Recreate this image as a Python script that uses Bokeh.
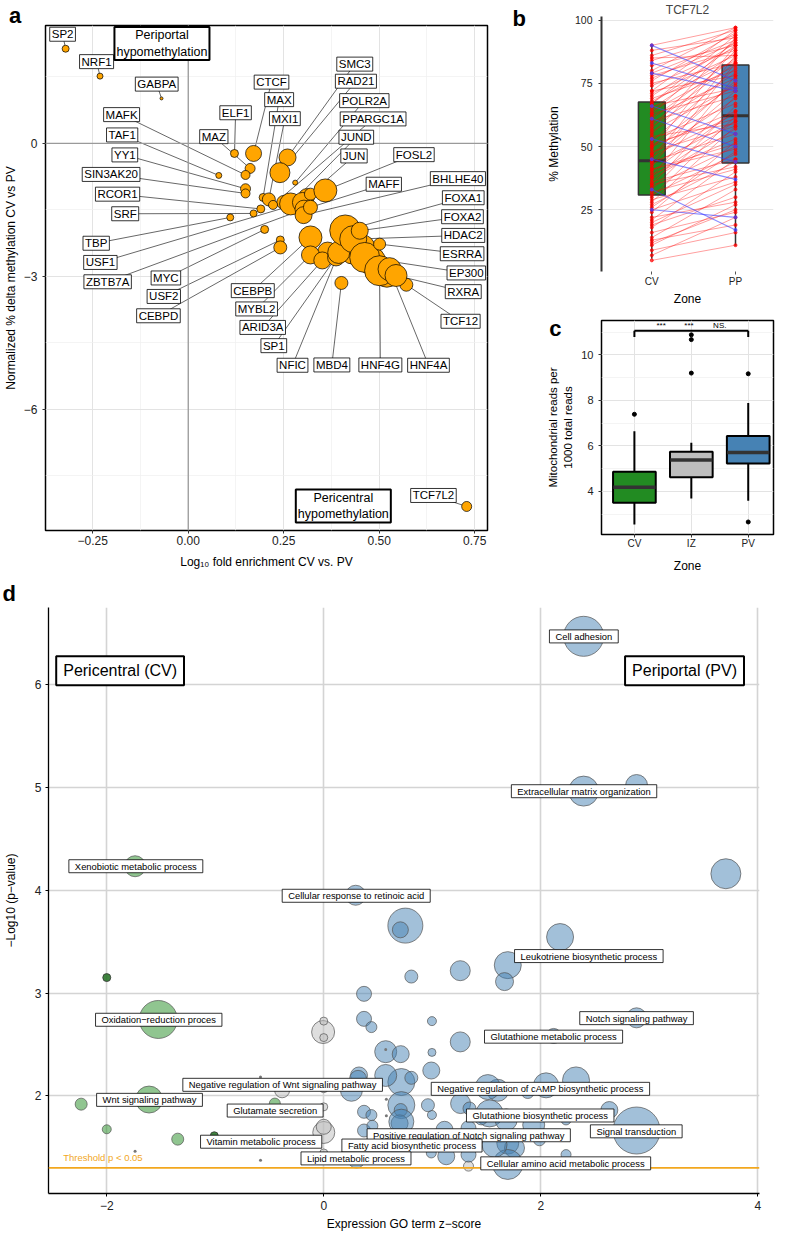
import math
from bokeh.plotting import figure
from bokeh.models import Range1d, FixedTicker, Label, Span, LinearAxis
from bokeh.layouts import row, column
from bokeh.embed import file_html
from bokeh.resources import INLINE

FONT = "Liberation Sans"

# ======================= DATA =======================
# ---- panel a: TF motif enrichment vs methylation change ----
a_tf = ["SP2", "NRF1", "GABPA", "ELF1", "CTCF", "SMC3", "RAD21", "POLR2A", "MAZ", "MAFK",
        "TAF1", "YY1", "SIN3AK20", "MAX", "MXI1", "PPARGC1A", "RCOR1", "SRF", "TBP", "MYC",
        "USF2", "CEBPD", "JUND", "USF1", "ZBTB7A", "BHLHE40", "JUN", "FOSL2", "CEBPB", "MYBL2",
        "ARID3A", "SP1", "NFIC", "FOXA1", "HDAC2", "FOXA2", "EP300", "HNF4G", "HNF4A", "ESRRA",
        "TCF12", "MBD4", "TCF7L2", "MAFF", "RXRA"]
a_log10_fold = [-0.321, -0.231, -0.070, 0.121, 0.171, 0.260, 0.240, 0.280, 0.162, 0.150,
                0.080, 0.150, 0.150, 0.196, 0.211, 0.222, 0.190, 0.171, 0.110, 0.200,
                0.241, 0.241, 0.268, 0.299, 0.303, 0.302, 0.320, 0.359, 0.320, 0.320,
                0.351, 0.387, 0.394, 0.411, 0.432, 0.449, 0.462, 0.501, 0.527, 0.501,
                0.571, 0.401, 0.729, 0.320, 0.544]
a_norm_delta = [2.136, 1.518, 1.015, -0.226, -0.226, -0.316, -0.659, -0.884, -0.564, -0.711,
                -0.722, -1.022, -1.128, -1.218, -1.263, -1.387, -1.477, -1.579, -1.669, -1.940,
                -2.177, -2.346, -1.365, -1.331, -1.482, -1.617, -1.144, -1.060, -2.120, -2.515,
                -2.639, -2.571, -2.459, -1.962, -2.159, -1.969, -2.571, -2.871, -2.835, -2.271,
                -3.187, -3.147, -8.188, -1.440, -2.978]
a_n_sites = [7, 6, 3, 8, 16, 17, 20, 5, 10, 9,
             6, 10, 9, 8, 13, 9, 8, 7, 7, 8,
             8, 13, 22, 20, 18, 17, 12, 23, 23, 18,
             17, 17, 22, 31, 27, 17, 30, 30, 23, 12,
             13, 13, 10, 14, 22]
# unlabelled motifs in the dense cluster
a_other_fold = [0.455, 0.480, 0.365, 0.520, 0.310, 0.430, 0.250]
a_other_delta = [-2.350, -2.650, -2.450, -2.950, -1.200, -2.450, -1.330]
a_other_n = [26, 28, 20, 26, 16, 24, 14]

# ---- panel b: TCF7L2 CpG methylation, paired CV -> PP ----
b_cv_up = [5, 7, 9, 11, 13, 14, 16, 18, 19, 21,
           22, 24, 25, 27, 28, 29, 30, 31, 32, 33,
           34, 35, 36, 37, 38, 39, 40, 41, 42, 43,
           44, 44, 45, 46, 47, 48, 49, 50, 51, 52,
           53, 55, 56, 57, 58, 60, 61, 62, 63, 64,
           65, 66, 67, 68, 69, 70, 71, 72, 74, 75,
           76, 78, 79, 80, 82, 84, 86, 88, 90, 20,
           26, 35, 38, 41, 47, 50, 54, 59, 63, 67,
           72, 77, 85, 12]
b_pp_up = [11, 22, 16, 27, 19, 33, 24, 40, 30, 45,
           28, 52, 36, 44, 58, 38, 62, 47, 41, 66,
           50, 70, 45, 57, 78, 53, 64, 49, 83, 60,
           72, 55, 86, 63, 69, 58, 90, 75, 61, 81,
           67, 88, 74, 93, 79, 70, 85, 77, 92, 82,
           87, 73, 94, 84, 80, 91, 86, 96, 89, 83,
           95, 88, 92, 97, 90, 94, 96, 93, 97, 35,
           48, 42, 60, 51, 76, 64, 59, 83, 72, 90,
           78, 91, 86, 25]
b_cv_down = [90, 83, 79, 66, 61, 53, 45, 33, 25]
b_pp_down = [76, 73, 72, 55, 50, 44, 37, 17, 22]
b_zone = ["CV", "PP"]
b_q1 = [30.8, 43.5]
b_med = [44.4, 62.2]
b_q3 = [67.6, 82.2]
b_lo = [5.6, 10.8]
b_hi = [90.2, 97.4]

# ---- panel c: mitochondrial reads ----
c_zone = ["CV", "IZ", "PV"]
c_q1 = [3.50, 4.62, 5.23]
c_med = [4.19, 5.38, 5.71]
c_q3 = [4.87, 5.75, 6.44]
c_lo = [2.55, 3.69, 3.59]
c_hi = [6.65, 6.14, 7.89]
c_out_zone = ["CV", "IZ", "IZ", "IZ", "PV", "PV"]
c_out_val = [7.39, 9.20, 10.67, 10.88, 9.17, 2.66]
c_sig = ["***", "***", "NS."]

# ---- panel d: GO term bubbles ----
d_pv_z = [2.395, 2.395, 2.883, 3.706, 0.294, 0.752, 0.706, 2.178, 0.807, 1.258,
          1.696, 1.666, 0.371, 0.371, 0.439, 0.997, 1.258, 0.997, 0.571, 0.709,
          0.991, 0.715, 0.571, 0.325, 0.807, 2.049, 2.325, 1.880, 1.604, 1.261,
          1.343, 0.715, 0.709, 0.997, 1.528, 1.681, 2.632, 2.233, 1.935, 2.883,
          0.699, 1.113, 1.696, 1.758, 1.334, 1.334, 1.129, 2.233, 1.696, 0.991,
          0.255, 0.316, 0.371, 0.439, 0.371, 0.448, 0.347, 0.301, 0.960, 1.451,
          1.574, 1.512, 1.988, 2.883, 2.119, 0.715]
d_pv_logp = [6.466, 4.962, 5.016, 4.159, 3.950, 3.655, 3.614, 3.544, 3.160, 3.217,
             3.271, 3.111, 2.992, 2.749, 2.669, 2.727, 2.525, 2.423, 2.430, 2.406,
             2.247, 2.135, 2.199, 2.199, 2.176, 2.103, 2.151, 2.038, 2.055, 1.926,
             1.878, 1.911, 1.863, 1.815, 1.830, 1.767, 1.863, 1.767, 1.718, 1.664,
             1.734, 1.671, 1.542, 1.494, 1.686, 1.430, 1.414, 1.430, 1.334, 1.446,
             2.055, 2.166, 1.846, 1.814, 1.664, 1.710, 1.478, 1.382, 1.910, 1.782,
             1.526, 2.086, 1.574, 2.759, 2.583, 1.750]
d_pv_genes = [40, 30, 22, 30, 20, 35, 16, 27, 13, 20,
              27, 18, 15, 15, 11, 9, 20, 8, 22, 17,
              17, 27, 22, 17, 13, 25, 27, 13, 22, 20,
              13, 27, 13, 9, 27, 22, 17, 10, 22, 47,
              17, 17, 22, 20, 15, 15, 17, 10, 30, 10,
              22, 17, 13, 11, 13, 11, 13, 17, 13, 13,
              25, 25, 12, 20, 15, 25]
d_cv_z = [-1.739, -1.525, -2.236, -1.610, -2.000, -1.346, -0.451]
d_cv_logp = [4.232, 2.743, 1.920, 1.965, 1.676, 1.580, 1.926]
d_cv_genes = [21, 38, 12, 27, 9, 12, 11]
d_cv_strong_z = [-2.000, -1.009]
d_cv_strong_logp = [3.150, 1.613]
d_cv_strong_genes = [8, 8]
d_ns_z = [-0.006, 0.0, 0.0, 0.0, 0.0, 0.0, 0.0, 0.0, -0.384, 1.334]
d_ns_logp = [2.621, 2.727, 2.567, 2.070, 1.894, 1.645, 1.700, 1.446, 2.055, 1.318]
d_ns_genes = [23, 8, 8, 8, 8, 22, 15, 8, 15, 10]
d_tiny_z = [-0.583, -0.583, -1.739, 0.577, 0.577, 0.571]
d_tiny_logp = [2.183, 1.376, 1.462, 1.968, 1.808, 2.450]
d_terms = ["Cell adhesion", "Extracellular matrix organization", "Xenobiotic metabolic process",
           "Cellular response to retinoic acid", "Leukotriene biosynthetic process",
           "Notch signaling pathway", "Oxidation\u2212reduction proces", "Glutathione metabolic process",
           "Negative regulation of Wnt signaling pathway", "Negative regulation of cAMP biosynthetic process",
           "Wnt signaling pathway", "Glutamate secretion", "Glutathione biosynthetic process",
           "Signal transduction", "Positive regulation of Notch signaling pathway",
           "Vitamin metabolic process", "Fatty acid biosynthetic process", "Lipid metabolic process",
           "Cellular amino acid metabolic process"]
d_threshold = -math.log10(0.05)

# ======================= LAYOUT =======================
A_LABEL_POS = {
    "SP2": (-0.329, 2.463), "NRF1": (-0.240, 1.845), "GABPA": (-0.0825, 1.338),
    "CTCF": (0.218, 1.383), "MAX": (0.238, 0.988), "MXI1": (0.253, 0.559),
    "ELF1": (0.124, 0.692), "MAZ": (0.067, 0.153), "MAFK": (-0.1745, 0.650),
    "TAF1": (-0.173, 0.192), "YY1": (-0.166, -0.259), "SIN3AK20": (-0.202, -0.699),
    "RCOR1": (-0.185, -1.144), "SRF": (-0.165, -1.586), "TBP": (-0.241, -2.251),
    "USF1": (-0.230, -2.684), "ZBTB7A": (-0.211, -3.120), "MYC": (-0.0585, -3.034),
    "USF2": (-0.064, -3.451), "CEBPD": (-0.078, -3.887), "SMC3": (0.436, 1.789),
    "RAD21": (0.439, 1.403), "POLR2A": (0.461, 0.965), "PPARGC1A": (0.484, 0.553),
    "JUND": (0.440, 0.140), "JUN": (0.434, -0.282), "FOSL2": (0.591, -0.253),
    "MAFF": (0.512, -0.920), "BHLHE40": (0.706, -0.794), "FOXA1": (0.720, -1.225),
    "FOXA2": (0.718, -1.653), "HDAC2": (0.720, -2.075), "ESRRA": (0.717, -2.488),
    "EP300": (0.728, -2.921), "RXRA": (0.720, -3.343), "TCF12": (0.713, -4.011),
    "HNF4A": (0.629, -5.003), "HNF4G": (0.503, -4.996), "MBD4": (0.376, -4.996),
    "NFIC": (0.273, -5.003), "SP1": (0.224, -4.561), "ARID3A": (0.195, -4.150),
    "MYBL2": (0.179, -3.733), "CEBPB": (0.169, -3.320), "TCF7L2": (0.642, -7.940),
}
D_LABEL_POS = {
    "Cell adhesion": (2.397, 6.465), "Extracellular matrix organization": (2.399, 4.961),
    "Xenobiotic metabolic process": (-1.732, 4.232), "Cellular response to retinoic acid": (0.299, 3.945),
    "Leukotriene biosynthetic process": (2.443, 3.359), "Notch signaling pathway": (2.883, 2.756),
    "Oxidation\u2212reduction proces": (-1.521, 2.740), "Glutathione metabolic process": (2.118, 2.576),
    "Negative regulation of Wnt signaling pathway": (-0.379, 2.108),
    "Negative regulation of cAMP biosynthetic process": (1.997, 2.069),
    "Wnt signaling pathway": (-1.606, 1.962), "Glutamate secretion": (-0.448, 1.858),
    "Glutathione biosynthetic process": (1.995, 1.810), "Signal transduction": (2.880, 1.656),
    "Positive regulation of Notch signaling pathway": (1.336, 1.618),
    "Vitamin metabolic process": (-0.577, 1.555), "Fatty acid biosynthetic process": (0.813, 1.518),
    "Lipid metabolic process": (0.297, 1.393), "Cellular amino acid metabolic process": (2.230, 1.345),
}


class Geo:
    def __init__(s, L, T, W, H, xr, yr):
        s.L, s.T, s.W, s.H, s.xr, s.yr = L, T, W, H, xr, yr

    def x(s, px):
        return s.xr[0] + (px - s.L) / s.W * (s.xr[1] - s.xr[0])

    def y(s, py):
        return s.yr[1] - (py - s.T) / s.H * (s.yr[1] - s.yr[0])


def make_fig(w, h, g):
    p = figure(width=w, height=h, x_range=Range1d(*g.xr), y_range=Range1d(*g.yr),
               output_backend="svg", toolbar_location=None,
               min_border_left=g.L, min_border_top=g.T,
               min_border_right=w - g.L - g.W, min_border_bottom=h - g.T - g.H)
    p.background_fill_color = "white"
    p.border_fill_color = "white"
    return p


def txt(p, x, y, text, size, color="black", align="center", baseline="middle",
        style="normal", angle=0.0, box=None, place=None):
    kw = dict(x=x, y=y, text=text, text_font=FONT, text_font_size=size, text_color=color,
              text_align=align, text_baseline=baseline, text_font_style=style, angle=angle)
    if box is not None:
        bw, pad = box
        kw.update(background_fill_color="white", background_fill_alpha=1.0,
                  border_line_color="black", border_line_width=bw, padding=pad)
    lbl = Label(**kw)
    if place is None:
        p.add_layout(lbl)
    else:
        p.add_layout(lbl, place)


def style_axis(ax, size, color, tick_out, standoff, title_standoff, title_size, tick_color):
    ax.major_label_text_font = FONT
    ax.major_label_text_font_size = size
    ax.major_label_text_color = color
    ax.major_tick_out = tick_out
    ax.major_tick_in = 0
    ax.major_tick_line_color = tick_color
    ax.minor_tick_line_color = None
    ax.major_label_standoff = standoff
    ax.axis_label_standoff = title_standoff
    ax.axis_label_text_font = FONT
    ax.axis_label_text_font_size = title_size
    ax.axis_label_text_font_style = "normal"
    ax.axis_label_text_color = "black"


def minus(v, fmt):
    return fmt.format(v).replace("-", "\u2212")


# ======================= PANEL A =======================
ga = Geo(38, 25, 449, 505, (-0.3737, 0.7835), (-8.73, 2.66))
pa = make_fig(505, 575, ga)
pa.outline_line_color = "black"
pa.outline_line_width = 1.5
xt = [-0.25, 0.0, 0.25, 0.5, 0.75]
yt = [-6, -3, 0]
pa.xaxis.ticker = FixedTicker(ticks=xt, minor_ticks=[-0.125, 0.125, 0.375, 0.625])
pa.yaxis.ticker = FixedTicker(ticks=yt, minor_ticks=[-7.5, -4.5, -1.5, 1.5])
pa.xgrid.ticker = FixedTicker(ticks=xt, minor_ticks=[-0.125, 0.125, 0.375, 0.625])
pa.ygrid.ticker = FixedTicker(ticks=yt, minor_ticks=[-7.5, -4.5, -1.5, 1.5])
pa.xaxis.major_label_overrides = {v: minus(v, "{:.2f}") for v in xt}
pa.yaxis.major_label_overrides = {v: minus(v, "{:d}") for v in yt}
for gr in (pa.xgrid, pa.ygrid):
    gr.grid_line_color = "#e3e3e3"
    gr.grid_line_width = 1
    gr.minor_grid_line_color = "#efefef"
    gr.minor_grid_line_width = 0.7
style_axis(pa.xaxis, "12px", "#222222", 3, 1, 7, "12px", "#333333")
style_axis(pa.yaxis, "12px", "#222222", 3, 4, 3, "12px", "#333333")
pa.xaxis.axis_line_color = None
pa.yaxis.axis_line_color = None
pa.xaxis.axis_label = "Log\u2081\u2080 fold enrichment CV vs. PV"
pa.yaxis.axis_label = "Normalized % delta methylation CV vs PV"
pa.add_layout(Span(location=0, dimension="height", line_color="#9a9a9a", line_width=1.3))
pa.add_layout(Span(location=0, dimension="width", line_color="#9a9a9a", line_width=1.3))

seg_x0, seg_y0, seg_x1, seg_y1 = [], [], [], []
for name, fx, fy in zip(a_tf, a_log10_fold, a_norm_delta):
    lx, ly = A_LABEL_POS[name]
    seg_x0.append(lx); seg_y0.append(ly); seg_x1.append(fx); seg_y1.append(fy)
pa.segment(x0=seg_x0, y0=seg_y0, x1=seg_x1, y1=seg_y1, line_color="black", line_width=0.6)
pa.scatter(x=a_other_fold, y=a_other_delta, size=a_other_n, fill_color="#FFA500",
           line_color="black", line_width=0.7)
pa.scatter(x=a_log10_fold, y=a_norm_delta, size=a_n_sites, fill_color="#FFA500",
           line_color="black", line_width=0.7)
lab_pad = dict(left=2, right=2, top=1, bottom=1)
for name in a_tf:
    lx, ly = A_LABEL_POS[name]
    txt(pa, lx, ly, name, "11.5px", box=(0.8, lab_pad))
big_pad = dict(left=2, right=2, top=1, bottom=1)
txt(pa, -0.0688, ga.y(43), "Periportal\nhypomethylation", "12.5px", box=(2, big_pad))
txt(pa, 0.406, -8.177, "Pericentral\nhypomethylation", "12.5px", box=(2, big_pad))
txt(pa, ga.x(1), ga.y(15), "a", "22px", align="left", baseline="alphabetic", style="bold",
    place="above")

# ======================= PANEL B =======================
gb = Geo(96, 15, 172, 260, (0.399, 2.454), (0.6, 101.4))
pb = make_fig(270, 308, gb)
pb.outline_line_color = None
pb.title.text = "TCF7L2"
pb.title.align = "center"
pb.title.offset = 6
pb.title.standoff = 0
pb.title.text_font = FONT
pb.title.text_font_size = "12px"
pb.title.text_font_style = "normal"
pb.xgrid.visible = False
pb.yaxis.ticker = FixedTicker(ticks=[25, 50, 75, 100])
pb.ygrid.ticker = FixedTicker(ticks=[25, 50, 75, 100])
pb.ygrid.grid_line_color = "#e6e6e6"
pb.ygrid.grid_line_width = 1
pb.xaxis.ticker = FixedTicker(ticks=[1, 2])
pb.xaxis.major_label_overrides = {1: b_zone[0], 2: b_zone[1]}
style_axis(pb.yaxis, "10.5px", "#222222", 3, 6, 11, "12px", "#333333")
style_axis(pb.xaxis, "10px", "#222222", 3, 1, 2, "12px", "#555555")
pb.yaxis.axis_line_color = "#333333"
pb.yaxis.axis_line_width = 2
pb.xaxis.axis_line_color = None
pb.yaxis.axis_label = "% Methylation"
pb.xaxis.axis_label = "Zone"
bx = [1, 2]
pb.segment(x0=bx, y0=b_lo, x1=bx, y1=b_q1, line_color="#333333", line_width=1.5)
pb.segment(x0=bx, y0=b_q3, x1=bx, y1=b_hi, line_color="#333333", line_width=1.5)
pb.vbar(x=bx, width=0.32, bottom=b_q1, top=b_q3, fill_color=["#228B22", "#4682B4"],
        line_color="#333333", line_width=1.5)
pb.segment(x0=[v - 0.16 for v in bx], y0=b_med, x1=[v + 0.16 for v in bx], y1=b_med,
           line_color="#333333", line_width=3)
n_up = len(b_cv_up)
pb.segment(x0=[1] * n_up, y0=b_cv_up, x1=[2] * n_up, y1=b_pp_up, line_color="red",
           line_alpha=0.38, line_width=1)
n_dn = len(b_cv_down)
pb.segment(x0=[1] * n_dn, y0=b_cv_down, x1=[2] * n_dn, y1=b_pp_down, line_color="#4040ff",
           line_alpha=0.6, line_width=1.2)
pb.scatter(x=[1] * n_up + [2] * n_up, y=b_cv_up + b_pp_up, size=3, color="red", alpha=0.7)
pb.scatter(x=[1] * n_dn + [2] * n_dn, y=b_cv_down + b_pp_down, size=3, color="#4040ff", alpha=0.7)
txt(pb, gb.x(7), gb.y(17), "b", "22px", align="left", baseline="alphabetic", style="bold",
    place="left")

# ======================= PANEL C =======================
gc = Geo(64, 12, 204, 218, (0.422, 3.444), (2.11, 11.51))
pc = make_fig(270, 267, gc)
pc.outline_line_color = "black"
pc.outline_line_width = 1.5
pc.xaxis.ticker = FixedTicker(ticks=[1, 2, 3])
pc.xgrid.ticker = FixedTicker(ticks=[1, 2, 3])
pc.xaxis.major_label_overrides = {1: c_zone[0], 2: c_zone[1], 3: c_zone[2]}
pc.yaxis.ticker = FixedTicker(ticks=[4, 6, 8, 10], minor_ticks=[3, 5, 7, 9, 11])
pc.ygrid.ticker = FixedTicker(ticks=[4, 6, 8, 10], minor_ticks=[3, 5, 7, 9, 11])
for gr in (pc.xgrid, pc.ygrid):
    gr.grid_line_color = "#e3e3e3"
    gr.grid_line_width = 1
pc.ygrid.minor_grid_line_color = "#efefef"
pc.ygrid.minor_grid_line_width = 0.7
style_axis(pc.yaxis, "11px", "#222222", 3, 4, 4, "11.5px", "#333333")
style_axis(pc.xaxis, "10px", "#222222", 3, 0, 7, "12px", "#333333")
pc.xaxis.axis_line_color = None
pc.yaxis.axis_line_color = None
pc.xaxis.axis_label = "Zone"
pc.yaxis.axis_label = "1000 total reads"
ax_extra = LinearAxis(ticker=FixedTicker(ticks=[]), axis_label="Mitochondrial reads per",
                      axis_line_color=None, major_tick_line_color=None, minor_tick_line_color=None,
                      major_tick_out=0, major_tick_in=0, major_label_standoff=0,
                      axis_label_standoff=1, axis_label_text_font=FONT,
                      axis_label_text_font_size="11.5px", axis_label_text_font_style="normal",
                      axis_label_text_color="black")
pc.add_layout(ax_extra, "left")
cx = [1, 2, 3]
pc.segment(x0=cx, y0=c_lo, x1=cx, y1=c_q1, line_color="black", line_width=2)
pc.segment(x0=cx, y0=c_q3, x1=cx, y1=c_hi, line_color="black", line_width=2)
pc.vbar(x=cx, width=0.75, bottom=c_q1, top=c_q3, fill_color=["#228B22", "#BEBEBE", "#4682B4"],
        line_color="black", line_width=2)
pc.segment(x0=[v - 0.37 for v in cx], y0=c_med, x1=[v + 0.37 for v in cx], y1=c_med,
           line_color="#333333", line_width=3.5)
zmap = {z: i + 1 for i, z in enumerate(c_zone)}
pc.scatter(x=[zmap[z] for z in c_out_zone], y=c_out_val, size=4, color="black")
pc.segment(x0=[1, 1, 3], y0=[11.06, 11.06, 11.06], x1=[3, 1, 3], y1=[11.06, 10.78, 10.78],
           line_color="black", line_width=2)
for xs, s in zip([1.47, 1.96, 2.50], c_sig):
    txt(pc, xs, 11.27, s, "8px")
txt(pc, gc.x(2), gc.y(20), "c", "22px", align="left", baseline="alphabetic", style="bold",
    place="left")

# ======================= PANEL D =======================
gd = Geo(47, 32, 712, 587, (-2.537, 4.016), (1.052, 6.746))
pd_ = make_fig(775, 658, gd)
pd_.outline_line_color = None
dxt = [-2, 0, 2, 4]
dyt = [2, 3, 4, 5, 6]
pd_.xaxis.ticker = FixedTicker(ticks=dxt)
pd_.xgrid.ticker = FixedTicker(ticks=dxt)
pd_.yaxis.ticker = FixedTicker(ticks=dyt)
pd_.ygrid.ticker = FixedTicker(ticks=dyt)
pd_.xaxis.major_label_overrides = {v: minus(v, "{:d}") for v in dxt}
for gr in (pd_.xgrid, pd_.ygrid):
    gr.grid_line_color = "#d4d4d4"
    gr.grid_line_width = 1.6
style_axis(pd_.xaxis, "12px", "#222222", 3, 4, 4, "12px", "black")
style_axis(pd_.yaxis, "12px", "#222222", 3, 4, 14, "12px", "black")
for ax in (pd_.xaxis, pd_.yaxis):
    ax.axis_line_color = "black"
    ax.axis_line_width = 1.3
pd_.xaxis.axis_label = "Expression GO term z\u2212score"
pd_.yaxis.axis_label = "\u2212Log10 (p\u2212value)"
pd_.add_layout(Span(location=d_threshold, dimension="width", line_color="#F2A71E", line_width=1.6))
pd_.scatter(x=d_ns_z, y=d_ns_logp, size=d_ns_genes, fill_color="#BEBEBE", fill_alpha=0.5,
            line_color="#555555", line_alpha=0.7, line_width=1)
pd_.scatter(x=d_cv_z, y=d_cv_logp, size=d_cv_genes, fill_color="#228B22", fill_alpha=0.5,
            line_color="#555555", line_alpha=0.7, line_width=1)
pd_.scatter(x=d_cv_strong_z, y=d_cv_strong_logp, size=d_cv_strong_genes, fill_color="#1f6e1f",
            fill_alpha=0.85, line_color="#333333", line_alpha=0.8, line_width=1)
pd_.scatter(x=d_pv_z, y=d_pv_logp, size=d_pv_genes, fill_color="#4682B4", fill_alpha=0.5,
            line_color="#555555", line_alpha=0.7, line_width=1)
pd_.scatter(x=d_tiny_z, y=d_tiny_logp, size=3, fill_color="#777777", line_color=None)
for term in d_terms:
    lx, ly = D_LABEL_POS[term]
    txt(pd_, lx, ly, term, "9.4px", box=(0.8, dict(left=6, right=6, top=1, bottom=1)))
txt(pd_, -1.877, 6.131, "Pericentral (CV)", "16px", box=(2, dict(left=7, right=7, top=6, bottom=6)))
txt(pd_, 3.325, 6.131, "Periportal (PV)", "16px", box=(2, dict(left=7, right=7, top=6, bottom=6)))
txt(pd_, -2.402, 1.398, "Threshold p < 0.05", "9.5px", color="#F2A71E", align="left")
txt(pd_, gd.x(1), gd.y(18), "d", "22px", align="left", baseline="alphabetic", style="bold",
    place="above")

layout = column(row(pa, column(pb, pc, spacing=0), spacing=0), pd_, spacing=0)
open("out.html", "w").write(file_html(layout, INLINE))
